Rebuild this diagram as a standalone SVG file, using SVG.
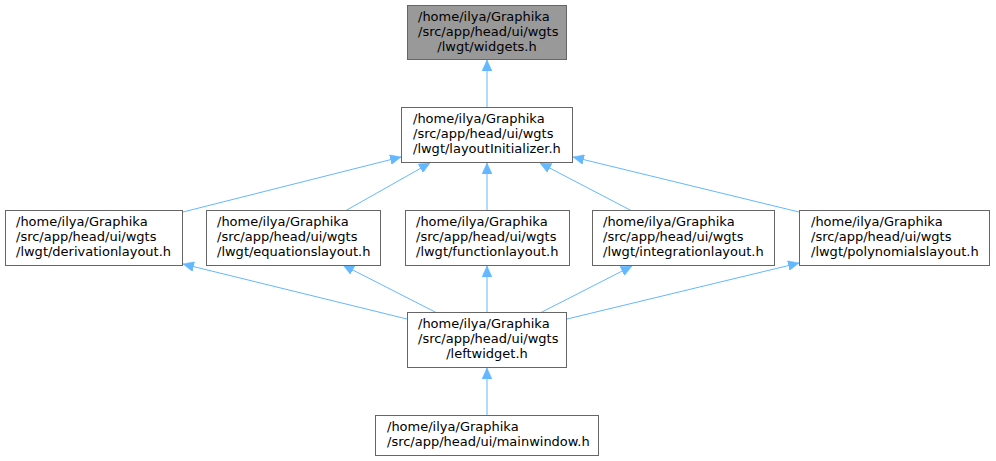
<svg xmlns="http://www.w3.org/2000/svg" width="996" height="461" viewBox="0 0 996 461">
<style>
.box{fill:#ffffff;stroke:#666666;stroke-width:1}
.cur{fill:#999999;stroke:#666666;stroke-width:1}
text{font-family:"DejaVu Sans",sans-serif;font-size:13px;fill:#000000}
.e{stroke:#63b8ff;stroke-width:1;fill:none;marker-end:url(#ah)}
</style>
<defs>
<marker id="ah" viewBox="0 0 11 10" refX="11" refY="5" markerWidth="11" markerHeight="10" markerUnits="userSpaceOnUse" orient="auto">
<path d="M0,0 L11,5 L0,10 z" fill="#63b8ff" stroke="#63b8ff" stroke-width="0.5"/>
</marker>
</defs>
<rect width="996" height="461" fill="#ffffff"/>
<g id="edges">
<path class="e" d="M487,107 L487,60"/>
<path class="e" d="M183,212 L401,157"/>
<path class="e" d="M345,211 L430,163"/>
<path class="e" d="M487,210 L487,163"/>
<path class="e" d="M632,211 L540,163"/>
<path class="e" d="M799,212 L573,157"/>
<path class="e" d="M407,319 L183,264"/>
<path class="e" d="M437,313 L343,265"/>
<path class="e" d="M487,313 L487,266"/>
<path class="e" d="M540,313 L632,266"/>
<path class="e" d="M567,319 L799,263"/>
<path class="e" d="M487,415 L487,368"/>
</g>
<g id="widgets">
<rect class="cur" x="407.5" y="5.5" width="159" height="54"/>
<text x="418" y="20.5">/home/ilya/Graphika</text>
<text x="418" y="35.5">/src/app/head/ui/wgts</text>
<text x="487" y="50.5" text-anchor="middle">/lwgt/widgets.h</text>
</g>
<g id="layoutInitializer">
<rect class="box" x="401.5" y="107.5" width="171" height="55"/>
<text x="413" y="123">/home/ilya/Graphika</text>
<text x="413" y="138">/src/app/head/ui/wgts</text>
<text x="413" y="153">/lwgt/layoutInitializer.h</text>
</g>
<g id="derivationlayout">
<rect class="box" x="5.5" y="210.5" width="177" height="55"/>
<text x="16" y="226">/home/ilya/Graphika</text>
<text x="16" y="241">/src/app/head/ui/wgts</text>
<text x="16" y="256">/lwgt/derivationlayout.h</text>
</g>
<g id="equationslayout">
<rect class="box" x="206.5" y="210.5" width="174" height="55"/>
<text x="217" y="226">/home/ilya/Graphika</text>
<text x="217" y="241">/src/app/head/ui/wgts</text>
<text x="217" y="256">/lwgt/equationslayout.h</text>
</g>
<g id="functionlayout">
<rect class="box" x="405.5" y="210.5" width="164" height="55"/>
<text x="416" y="226">/home/ilya/Graphika</text>
<text x="416" y="241">/src/app/head/ui/wgts</text>
<text x="416" y="256">/lwgt/functionlayout.h</text>
</g>
<g id="integrationlayout">
<rect class="box" x="592.5" y="210.5" width="182" height="55"/>
<text x="603" y="226">/home/ilya/Graphika</text>
<text x="603" y="241">/src/app/head/ui/wgts</text>
<text x="603" y="256">/lwgt/integrationlayout.h</text>
</g>
<g id="polynomialslayout">
<rect class="box" x="799.5" y="210.5" width="190" height="55"/>
<text x="811" y="226">/home/ilya/Graphika</text>
<text x="811" y="241">/src/app/head/ui/wgts</text>
<text x="811" y="256">/lwgt/polynomialslayout.h</text>
</g>
<g id="leftwidget">
<rect class="box" x="407.5" y="312.5" width="159" height="55"/>
<text x="418" y="328">/home/ilya/Graphika</text>
<text x="418" y="343">/src/app/head/ui/wgts</text>
<text x="487" y="358" text-anchor="middle">/leftwidget.h</text>
</g>
<g id="mainwindow">
<rect class="box" x="375.5" y="415.5" width="223" height="40"/>
<text x="387" y="431">/home/ilya/Graphika</text>
<text x="387" y="446">/src/app/head/ui/mainwindow.h</text>
</g>
</svg>
